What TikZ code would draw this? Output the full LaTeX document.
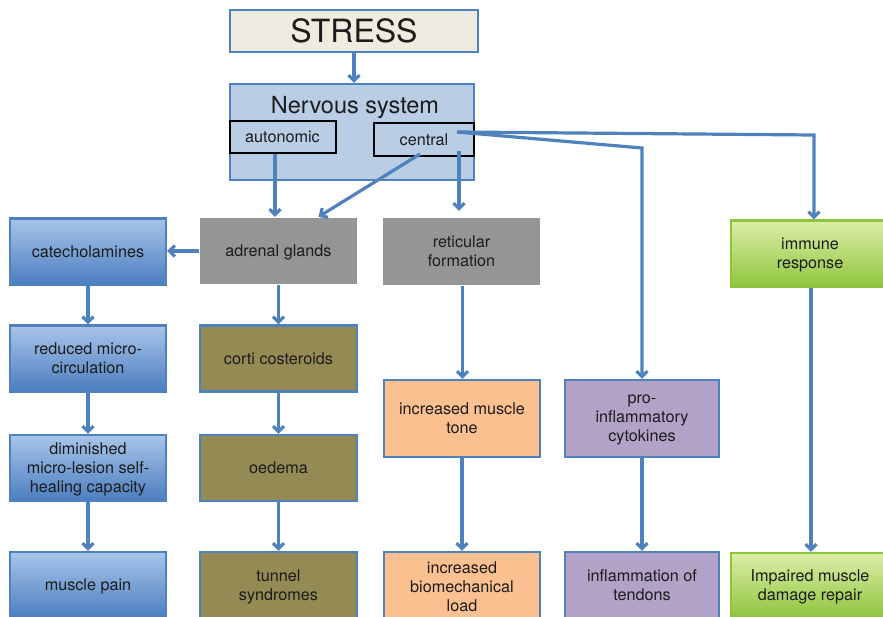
\documentclass[tikz,border=0pt]{standalone}
\usepackage{fontspec}
\setmainfont{TeX Gyre Heros}
\usetikzlibrary{arrows.meta,calc}

\definecolor{edgeblue}{HTML}{4F81BD}
\definecolor{txt}{HTML}{1C1C1C}
\definecolor{stressfill}{HTML}{EEECE1}
\definecolor{nsfill}{HTML}{B9CDE5}
\definecolor{boxgray}{HTML}{959595}
\definecolor{olive}{HTML}{948A54}
\definecolor{peach}{HTML}{FAC090}
\definecolor{lilac}{HTML}{B3A2C7}
\definecolor{bluetop}{HTML}{A8C5EA}
\definecolor{bluebot}{HTML}{4C7DBF}
\definecolor{greentop}{HTML}{DCEDA8}
\definecolor{greenbot}{HTML}{90C63F}
\definecolor{greenedge}{HTML}{8CC43E}

\begin{document}
\begin{tikzpicture}[x=1pt,y=-1pt,
  box/.style={draw=edgeblue, line width=2.4pt, align=center, inner sep=0pt,
    text=txt, font=\fontsize{16.2}{19}\selectfont},
  colbox/.style={box, minimum width=156pt, minimum height=66pt, text depth=0pt},
  bluebox/.style={colbox, top color=bluetop, bottom color=bluebot},
  greenbox/.style={colbox, draw=greenedge, top color=greentop, bottom color=greenbot, minimum width=158pt},
  graybox/.style={colbox, draw=none, fill=boxgray},
  olivebox/.style={colbox, fill=olive},
  peachbox/.style={colbox, fill=peach},
  lilacbox/.style={colbox, fill=lilac, minimum width=154pt},
  subbox/.style={box, draw=black, line width=2pt},
  flow/.style={draw=edgeblue, line width=3.2pt,
    -{Straight Barb[length=5.5pt,width=11pt]}}
]
\useasboundingbox (0,0) rectangle (883,616);
\clip (0,0) rectangle (883,616);

% top: stress and nervous system
\node[box, fill=stressfill, minimum width=248pt, minimum height=42pt,
  font=\fontsize{32}{32}\selectfont] (stress) at (354,31) {STRESS};
\node[box, fill=nsfill, minimum width=244pt, minimum height=96pt] (ns) at (352,132) {};
\node[anchor=base, text=txt, font=\fontsize{23.5}{23.5}\selectfont] (nslabel) at (355,113) {Nervous system};
\node[subbox, minimum width=106pt, minimum height=32pt] (auto) at (282.5,137) {autonomic};
\node[subbox, minimum width=100pt, minimum height=33pt] (central) at (424,139.5) {central};

% first row
\node[bluebox] (cat) at (88,251.5) {catecholamines};
\node[graybox, minimum width=157pt] (adr) at (278.5,251) {adrenal glands};
\node[graybox, minimum width=157pt, minimum height=67pt] (ret) at (461.5,251.5) {reticular\\formation};
\node[greenbox] (imm) at (810,253.5) {immune\\response};

% second row
\node[bluebox] (red) at (88,358.5) {reduced micro-\\circulation};
\node[olivebox, minimum width=157pt] (cort) at (278.5,358.5) {corti costeroids};
\node[peachbox, minimum height=77pt] (tone) at (462,418.5) {increased muscle\\tone};
\node[lilacbox, minimum height=77pt] (cyto) at (642,418.5) {pro-\\inflammatory\\cytokines};

% third row
\node[bluebox] (dim) at (88,468) {diminished\\micro-lesion self-\\healing capacity};
\node[olivebox, minimum width=157pt] (oed) at (278.5,468) {oedema};

% bottom row
\node[bluebox] (pain) at (88,585) {muscle pain};
\node[olivebox, minimum width=157pt] (tun) at (278.5,585) {tunnel\\syndromes};
\node[peachbox, minimum height=70pt] (load) at (462,587) {increased\\biomechanical\\load};
\node[lilacbox] (tend) at (642,585) {inflammation of\\tendons};
\node[greenbox, minimum height=64pt] (imp) at (810,585) {Impaired muscle\\damage repair};

% connectors
\draw[flow] (stress.south) -- (stress.south |- ns.north);
\draw[flow] ([xshift=-7.5pt]auto.south) -- ([xshift=-7.5pt]auto.south |- adr.north);
\draw[flow] ([xshift=-4pt,yshift=3pt]central.south) -- ([xshift=40pt]adr.north);
\draw[flow] ([xshift=-16pt,yshift=6pt]central.south east) -- ([xshift=-16pt,yshift=6pt]central.south east |- ret.north);
\coordinate (cs) at ([xshift=-18pt,yshift=7.5pt]central.east);
\draw[flow] (cs) -- ($(cs -| cyto.north)+(0,16)$) -- (cyto.north);
\draw[flow] (cs) -- ($(cs -| imm.north)+(4,3)$) -- ([xshift=4pt]imm.north);

\draw[flow] (adr.west) -- (adr.west -| cat.east);
\draw[flow] (cat.south) -- (red.north);
\draw[flow] (red.south) -- (dim.north);
\draw[flow] (dim.south) -- (pain.north);

\draw[flow] (adr.south) -- (cort.north);
\draw[flow] (cort.south) -- (oed.north);
\draw[flow] (oed.south) -- (tun.north);

\draw[flow] ([xshift=1pt]ret.south) -- ([xshift=1pt]ret.south |- tone.north);
\draw[flow] (tone.south) -- (load.north);
\draw[flow] (cyto.south) -- (tend.north);
\draw[flow] ([xshift=1pt]imm.south) -- ([xshift=1pt]imm.south |- imp.north);
\end{tikzpicture}
\end{document}
